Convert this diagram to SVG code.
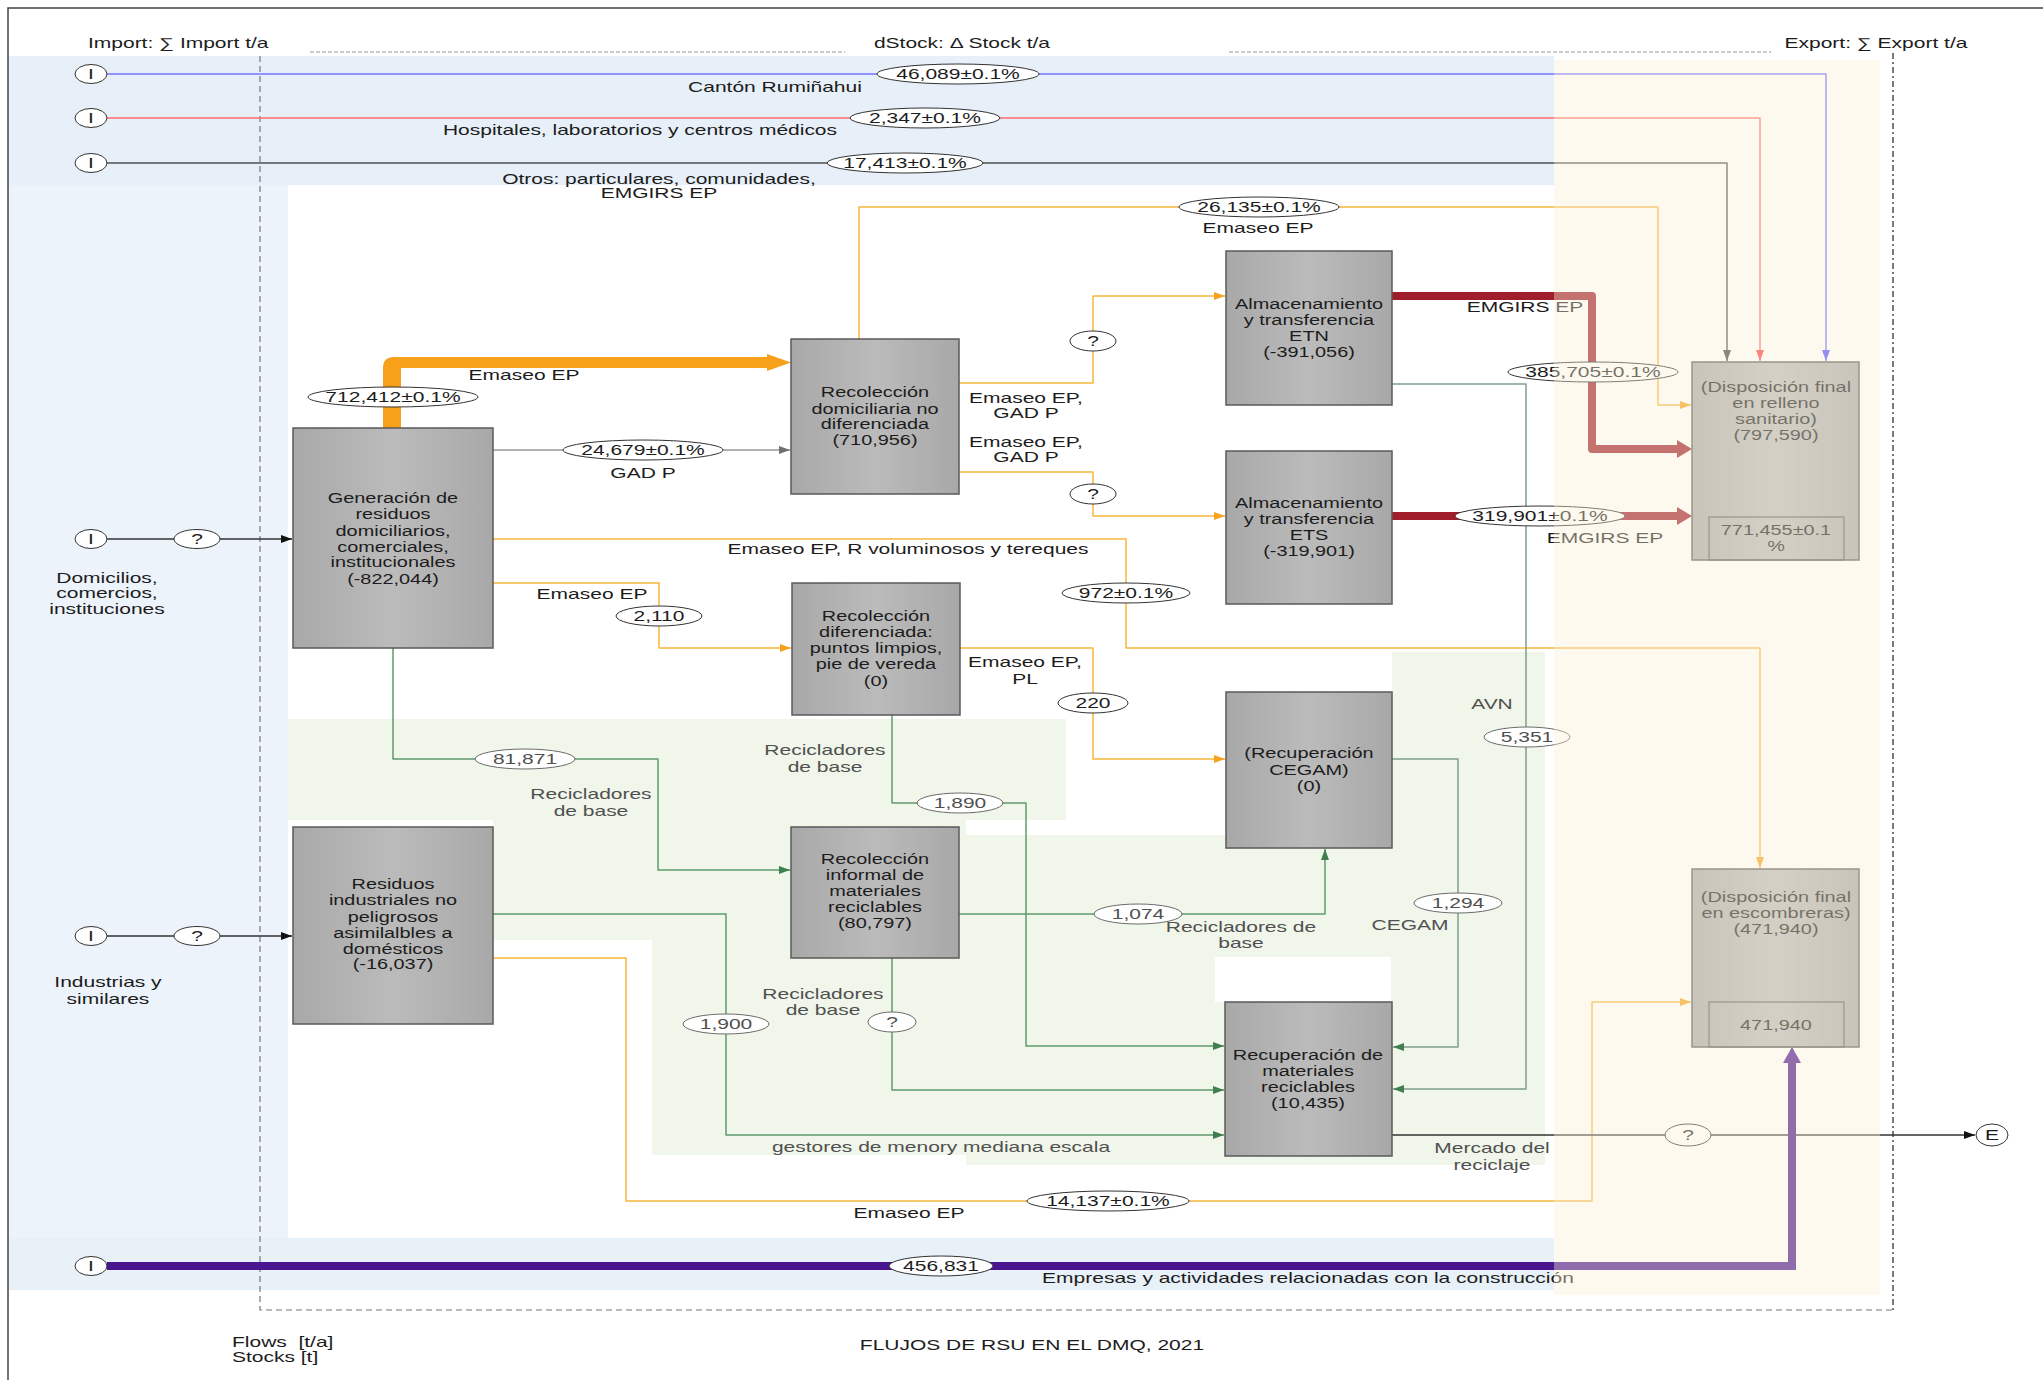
<svg xmlns="http://www.w3.org/2000/svg" width="2043" height="1380" viewBox="0 0 2043 1380">
  <defs>
    <linearGradient id="boxFill" x1="0" y1="0" x2="1" y2="0">
      <stop offset="0" stop-color="#a8a8a8"/>
      <stop offset="0.5" stop-color="#bbbbbb"/>
      <stop offset="1" stop-color="#a8a8a8"/>
    </linearGradient>
    <marker id="aOr" markerUnits="userSpaceOnUse" markerWidth="12" markerHeight="10" refX="11" refY="5" orient="auto"><path d="M0,1 L11,5 L0,9 z" fill="#f5a21e"/></marker>
    <marker id="aGr" markerUnits="userSpaceOnUse" markerWidth="12" markerHeight="10" refX="11" refY="5" orient="auto"><path d="M0,1 L11,5 L0,9 z" fill="#3f7f4f"/></marker>
    <marker id="aGy" markerUnits="userSpaceOnUse" markerWidth="12" markerHeight="10" refX="11" refY="5" orient="auto"><path d="M0,1 L11,5 L0,9 z" fill="#707070"/></marker>
    <marker id="aBk" markerUnits="userSpaceOnUse" markerWidth="12" markerHeight="10" refX="11" refY="5" orient="auto"><path d="M0,1 L11,5 L0,9 z" fill="#111"/></marker>
    <marker id="aBl" markerUnits="userSpaceOnUse" markerWidth="12" markerHeight="10" refX="11" refY="5" orient="auto"><path d="M0,1 L11,5 L0,9 z" fill="#5050ff"/></marker>
    <marker id="aRd" markerUnits="userSpaceOnUse" markerWidth="12" markerHeight="10" refX="11" refY="5" orient="auto"><path d="M0,1 L11,5 L0,9 z" fill="#ff4040"/></marker>
    <marker id="aDk" markerUnits="userSpaceOnUse" markerWidth="12" markerHeight="10" refX="11" refY="5" orient="auto"><path d="M0,1 L11,5 L0,9 z" fill="#404040"/></marker>
  </defs>
  <style>
    text { font-family: "Liberation Sans", Arial, sans-serif; font-size: 14px; fill: #1c1c1c; text-anchor: middle;
           transform-box: fill-box; transform-origin: center; transform: scaleX(1.5); }
    text.bx { transform: scaleX(1.42); }
    text.start { text-anchor: start; transform-origin: left center; }
    text.g { fill: #505050; }
    .box { fill: url(#boxFill); stroke: #5a5a5a; stroke-width: 1.5; }
    .inner { fill: none; stroke: #5a5a5a; stroke-width: 1.2; }
    .oval { fill: #fff; stroke: #333; stroke-width: 1; }
    .oval.g { stroke: #6b6b6b; }
    .ln { fill: none; stroke-width: 1.5; stroke-linejoin: round; }
    .or { stroke: #f7b53c; marker-end: url(#aOr); }
    .gr { stroke: #5f9b6c; marker-end: url(#aGr); }
    .gg { stroke: #7f9f90; marker-end: url(#aGr); }
    .gy { stroke: #9a9a9a; marker-end: url(#aGy); }
    .bk { stroke: #333; marker-end: url(#aBk); }
    .thick { fill: none; stroke: #a01e2b; stroke-width: 8; stroke-linejoin: round; }
    .bnd { fill: none; stroke: #777; stroke-width: 1.2; stroke-dasharray: 6 4; }
  </style>

  <!-- background zones -->
  <g id="zones">
    <rect x="0" y="0" width="2043" height="1380" fill="#fff"/>
    <rect x="8" y="56" width="1546" height="129" fill="#e7eff8"/>
    <rect x="8" y="185" width="280" height="1053" fill="#edf3fa"/>
    <rect x="8" y="1238" width="1546" height="52" fill="#e8f0f8"/>
    <g fill="#f1f6eb">
      <rect x="288" y="719" width="778" height="101"/>
      <rect x="493" y="820" width="159" height="120"/>
      <rect x="652" y="820" width="314" height="335"/>
      <rect x="966" y="835" width="579" height="330"/>
      <rect x="1392" y="652" width="153" height="183"/>
    </g>
    <rect x="1215" y="957" width="176" height="45" fill="#fff"/>
  </g>

  <!-- system boundary -->
  <g id="boundary">
    <path class="bnd" d="M260 56 V1310 H1893"/>
    <path d="M1893 53 V1310" fill="none" stroke="#333" stroke-width="1.3" stroke-dasharray="6 3 2 3"/>
    <path d="M310 52 H845 M1229 52 H1771" fill="none" stroke="#999" stroke-width="1.2" stroke-dasharray="4 2"/>
  </g>

  <!-- flows -->
  <g id="connectors">
    <path class="ln" d="M107 74 H1826 V361" stroke="#7373ff" stroke-width="2" marker-end="url(#aBl)"/>
    <path class="ln" d="M107 118 H1760 V361" stroke="#ff6b6b" marker-end="url(#aRd)"/>
    <path class="ln" d="M107 163 H1727 V361" stroke="#505050" stroke-width="2" marker-end="url(#aDk)"/>
    <path class="ln bk" d="M107 539 H292"/>
    <path class="ln bk" d="M107 936 H292"/>
    <path d="M383 428 V368 Q383 357 394 357 H767 V354 L791 362.5 L767 371 V368 H401 V428 Z" fill="#f7a01a"/>
    <path class="ln gy" d="M493 450 H790"/>
    <path class="ln or" d="M493 539 H1126 V648 H1760 V868"/>
    <path class="ln or" d="M493 583 H659 V648 H791" stroke="#efbe3a"/>
    <path class="ln gr" d="M393 648 V759 H658 V870 H790"/>
    <path class="ln or" d="M859 339 V207 H1658 V405 H1691"/>
    <path class="ln or" d="M959 383 H1093 V296 H1225"/>
    <path class="ln or" d="M959 472 H1093 V516 H1225"/>
    <path class="thick" d="M1392 296 H1592 V449 H1678"/>
    <polygon points="1677,440 1692,449 1677,458" fill="#a01e2b"/>
    <path class="thick" d="M1392 516 H1678"/>
    <polygon points="1677,507 1692,516 1677,525" fill="#a01e2b"/>
    <path class="ln gg" d="M1392 384 H1526 V1089 H1393"/>
    <path class="ln or" d="M960 648 H1093 V759 H1225"/>
    <path class="ln gr" d="M892 715 V803 H1026 V1046 H1224"/>
    <path class="ln gr" d="M959 914 H1325 V849"/>
    <path class="ln gr" d="M892 958 V1090 H1224"/>
    <path class="ln gg" d="M1392 759 H1458 V1047 H1393"/>
    <path class="ln gr" d="M493 914 H726 V1135 H1224"/>
    <path class="ln or" d="M493 958 H626 V1201 H1592 V1002 H1691" stroke="#fdc56a"/>
    <path class="ln bk" d="M1392 1135 H1975" stroke="#444"/>
    <path d="M107 1266 H1792 V1062" fill="none" stroke="#4a1590" stroke-width="8"/>
    <polygon points="1783,1063 1792,1047 1801,1063" fill="#4a1590"/>
  </g>

  <!-- sources and sink -->
  <g id="io">
    <g class="oval">
      <ellipse cx="91" cy="74" rx="16" ry="9.5"/>
      <ellipse cx="91" cy="118" rx="16" ry="9.5"/>
      <ellipse cx="91" cy="163" rx="16" ry="9.5"/>
      <ellipse cx="91" cy="539" rx="16" ry="9.5"/>
      <ellipse cx="91" cy="936" rx="16" ry="9.5"/>
      <ellipse cx="91" cy="1266" rx="16" ry="9.5"/>
      <ellipse cx="1992" cy="1135" rx="16" ry="11"/>
    </g>
    <text x="91" y="79">I</text>
    <text x="91" y="123">I</text>
    <text x="91" y="168">I</text>
    <text x="91" y="544">I</text>
    <text x="91" y="941">I</text>
    <text x="91" y="1271">I</text>
    <text x="1992" y="1140">E</text>
    <text x="107" y="583">Domicilios,</text>
    <text x="107" y="598">comercios,</text>
    <text x="107" y="614">instituciones</text>
    <text x="108" y="987">Industrias y</text>
    <text x="108" y="1004">similares</text>
  </g>

  <!-- flow values -->
  <g id="flow-values">
    <g class="oval">
      <ellipse cx="958" cy="74" rx="81" ry="10"/>
      <ellipse cx="925" cy="118" rx="75" ry="10"/>
      <ellipse cx="905" cy="163" rx="78" ry="10"/>
      <ellipse cx="1259" cy="207" rx="80" ry="10"/>
      <ellipse cx="393" cy="397" rx="85" ry="10"/>
      <ellipse cx="643" cy="450" rx="80" ry="10"/>
      <ellipse cx="1593" cy="372" rx="85" ry="10"/>
      <ellipse cx="1540" cy="516" rx="85" ry="10"/>
      <ellipse cx="1126" cy="593" rx="64" ry="10"/>
      <ellipse cx="659" cy="616" rx="43" ry="10"/>
      <ellipse cx="1093" cy="703" rx="35" ry="10"/>
      <ellipse cx="1093" cy="341" rx="23" ry="10"/>
      <ellipse cx="1093" cy="494" rx="23" ry="10"/>
      <ellipse cx="1108" cy="1201" rx="81" ry="10"/>
      <ellipse cx="941" cy="1266" rx="52" ry="10"/>
      <ellipse cx="197" cy="539" rx="23" ry="9.5"/>
      <ellipse cx="197" cy="936" rx="23" ry="9.5"/>
      <ellipse cx="1688" cy="1135" rx="23" ry="11"/>
    </g>
    <g class="oval g">
      <ellipse cx="525" cy="759" rx="50" ry="10"/>
      <ellipse cx="960" cy="803" rx="43" ry="10"/>
      <ellipse cx="1527" cy="737" rx="43" ry="10"/>
      <ellipse cx="1138" cy="914" rx="44" ry="10"/>
      <ellipse cx="1458" cy="903" rx="44" ry="10"/>
      <ellipse cx="726" cy="1024" rx="43" ry="10"/>
      <ellipse cx="892" cy="1022" rx="24" ry="10"/>
    </g>
    <text x="958" y="79">46,089±0.1%</text>
    <text x="925" y="123">2,347±0.1%</text>
    <text x="905" y="168">17,413±0.1%</text>
    <text x="1259" y="212">26,135±0.1%</text>
    <text x="393" y="402">712,412±0.1%</text>
    <text x="643" y="455">24,679±0.1%</text>
    <text x="1593" y="377">385,705±0.1%</text>
    <text x="1540" y="521">319,901±0.1%</text>
    <text x="1126" y="598">972±0.1%</text>
    <text x="659" y="621">2,110</text>
    <text x="1093" y="708">220</text>
    <text x="1093" y="346">?</text>
    <text x="1093" y="499">?</text>
    <text x="1108" y="1206">14,137±0.1%</text>
    <text x="941" y="1271">456,831</text>
    <text x="197" y="544">?</text>
    <text x="197" y="941">?</text>
    <text x="1688" y="1140">?</text>
    <text class="g" x="525" y="764">81,871</text>
    <text class="g" x="960" y="808">1,890</text>
    <text class="g" x="1527" y="742">5,351</text>
    <text class="g" x="1138" y="919">1,074</text>
    <text class="g" x="1458" y="908">1,294</text>
    <text class="g" x="726" y="1029">1,900</text>
    <text class="g" x="892" y="1027">?</text>
  </g>

  <!-- flow labels -->
  <g id="flow-labels">
    <text x="775" y="92">Cantón Rumiñahui</text>
    <text x="640" y="135">Hospitales, laboratorios y centros médicos</text>
    <text x="659" y="184">Otros: particulares, comunidades,</text>
    <text x="659" y="198">EMGIRS EP</text>
    <text x="1258" y="233">Emaseo EP</text>
    <text x="524" y="380">Emaseo EP</text>
    <text x="643" y="478">GAD P</text>
    <text x="1026" y="403">Emaseo EP,</text>
    <text x="1026" y="418">GAD P</text>
    <text x="1026" y="447">Emaseo EP,</text>
    <text x="1026" y="462">GAD P</text>
    <text x="1525" y="312">EMGIRS EP</text>
    <text x="1605" y="543">EMGIRS EP</text>
    <text x="908" y="554">Emaseo EP, R voluminosos y tereques</text>
    <text x="592" y="599">Emaseo EP</text>
    <text x="1025" y="667">Emaseo EP,</text>
    <text x="1025" y="684">PL</text>
    <text x="909" y="1218">Emaseo EP</text>
    <text x="1308" y="1283">Empresas y actividades relacionadas con la construcción</text>
    <text class="g" x="591" y="799">Recicladores</text>
    <text class="g" x="591" y="816">de base</text>
    <text class="g" x="825" y="755">Recicladores</text>
    <text class="g" x="825" y="772">de base</text>
    <text class="g" x="1241" y="932">Recicladores de</text>
    <text class="g" x="1241" y="948">base</text>
    <text class="g" x="823" y="999">Recicladores</text>
    <text class="g" x="823" y="1015">de base</text>
    <text class="g" x="1492" y="709">AVN</text>
    <text class="g" x="1410" y="930">CEGAM</text>
    <text class="g" x="941" y="1152">gestores de menory mediana escala</text>
    <text class="g" x="1492" y="1153">Mercado del</text>
    <text class="g" x="1492" y="1170">reciclaje</text>
  </g>

  <!-- processes -->
  <g id="generacion">
    <rect class="box" x="293" y="428" width="200" height="220"/>
    <text class="bx" x="393" y="503">Generación de</text>
    <text class="bx" x="393" y="519">residuos</text>
    <text class="bx" x="393" y="536">domiciliarios,</text>
    <text class="bx" x="393" y="552">comerciales,</text>
    <text class="bx" x="393" y="567">institucionales</text>
    <text class="bx" x="393" y="584">(-822,044)</text>
  </g>
  <g id="residuos-industriales">
    <rect class="box" x="293" y="827" width="200" height="197"/>
    <text class="bx" x="393" y="889">Residuos</text>
    <text class="bx" x="393" y="905">industriales no</text>
    <text class="bx" x="393" y="922">peligrosos</text>
    <text class="bx" x="393" y="938">asimilalbles a</text>
    <text class="bx" x="393" y="954">domésticos</text>
    <text class="bx" x="393" y="969">(-16,037)</text>
  </g>
  <g id="recoleccion-no-diferenciada">
    <rect class="box" x="791" y="339" width="168" height="155"/>
    <text class="bx" x="875" y="397">Recolección</text>
    <text class="bx" x="875" y="414">domiciliaria no</text>
    <text class="bx" x="875" y="429">diferenciada</text>
    <text class="bx" x="875" y="445">(710,956)</text>
  </g>
  <g id="etn">
    <rect class="box" x="1226" y="251" width="166" height="154"/>
    <text class="bx" x="1309" y="309">Almacenamiento</text>
    <text class="bx" x="1309" y="325">y transferencia</text>
    <text class="bx" x="1309" y="341">ETN</text>
    <text class="bx" x="1309" y="357">(-391,056)</text>
  </g>
  <g id="ets">
    <rect class="box" x="1226" y="451" width="166" height="153"/>
    <text class="bx" x="1309" y="508">Almacenamiento</text>
    <text class="bx" x="1309" y="524">y transferencia</text>
    <text class="bx" x="1309" y="540">ETS</text>
    <text class="bx" x="1309" y="556">(-319,901)</text>
  </g>
  <g id="recoleccion-diferenciada">
    <rect class="box" x="792" y="583" width="168" height="132"/>
    <text class="bx" x="876" y="621">Recolección</text>
    <text class="bx" x="876" y="637">diferenciada:</text>
    <text class="bx" x="876" y="653">puntos limpios,</text>
    <text class="bx" x="876" y="669">pie de vereda</text>
    <text class="bx" x="876" y="686">(0)</text>
  </g>
  <g id="cegam">
    <rect class="box" x="1226" y="692" width="166" height="156"/>
    <text class="bx" x="1309" y="758">(Recuperación</text>
    <text class="bx" x="1309" y="775">CEGAM)</text>
    <text class="bx" x="1309" y="791">(0)</text>
  </g>
  <g id="recoleccion-informal">
    <rect class="box" x="791" y="827" width="168" height="131"/>
    <text class="bx" x="875" y="864">Recolección</text>
    <text class="bx" x="875" y="880">informal de</text>
    <text class="bx" x="875" y="896">materiales</text>
    <text class="bx" x="875" y="912">reciclables</text>
    <text class="bx" x="875" y="928">(80,797)</text>
  </g>
  <g id="recuperacion-materiales">
    <rect class="box" x="1225" y="1002" width="167" height="154"/>
    <text class="bx" x="1308" y="1060">Recuperación de</text>
    <text class="bx" x="1308" y="1076">materiales</text>
    <text class="bx" x="1308" y="1092">reciclables</text>
    <text class="bx" x="1308" y="1108">(10,435)</text>
  </g>
  <g id="relleno-sanitario">
    <rect class="box" x="1692" y="362" width="167" height="198"/>
    <text class="bx" x="1776" y="392">(Disposición final</text>
    <text class="bx" x="1776" y="408">en relleno</text>
    <text class="bx" x="1776" y="424">sanitario)</text>
    <text class="bx" x="1776" y="440">(797,590)</text>
    <rect class="inner" x="1709" y="517" width="135" height="43"/>
    <text class="bx" x="1776" y="535">771,455±0.1</text>
    <text class="bx" x="1776" y="551">%</text>
  </g>
  <g id="escombreras">
    <rect class="box" x="1692" y="869" width="167" height="178"/>
    <text class="bx" x="1776" y="902">(Disposición final</text>
    <text class="bx" x="1776" y="918">en escombreras)</text>
    <text class="bx" x="1776" y="934">(471,940)</text>
    <rect class="inner" x="1709" y="1002" width="135" height="45"/>
    <text class="bx" x="1776" y="1030">471,940</text>
  </g>

  <!-- export zone tint lies over everything it spans -->
  <rect id="export-zone" x="1554" y="60" width="326" height="1235" fill="#faf0d7" opacity="0.4"/>

  <!-- headings and legend -->
  <g id="headings">
    <text class="start" x="88" y="48">Import: ∑ Import t/a</text>
    <text x="962" y="48">dStock: Δ Stock t/a</text>
    <text x="1876" y="48">Export: ∑ Export t/a</text>
    <text class="start" x="232" y="1347">Flows&#160; [t/a]</text>
    <text class="start" x="232" y="1362">Stocks [t]</text>
    <text x="1032" y="1350">FLUJOS DE RSU EN EL DMQ, 2021</text>
  </g>

  <!-- frame -->
  <path d="M8 1380 V8 H2043" fill="none" stroke="#444" stroke-width="1.5"/>
</svg>
